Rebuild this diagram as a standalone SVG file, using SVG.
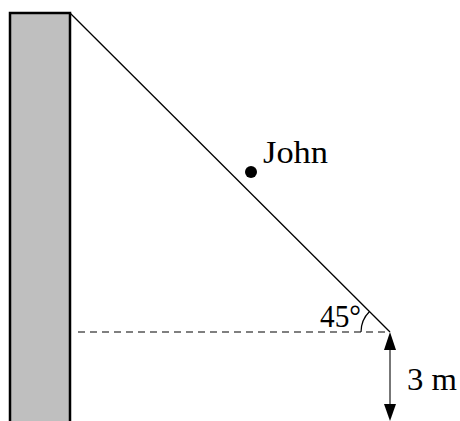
<svg xmlns="http://www.w3.org/2000/svg" width="460" height="421" viewBox="0 0 460 421">
<style>
.lbl{font-family:"Liberation Serif","Times New Roman",serif;font-size:31px;fill:#000}
</style>
<rect width="460" height="421" fill="#fff"/>
<g id="wall">
<path d="M10,425 L10,13 L70,13 L70,425" fill="#bfbfbf" stroke="#000" stroke-width="2.5"/>
</g>
<g id="connectors">
<line x1="70" y1="13" x2="390" y2="332" stroke="#000" stroke-width="1.3"/>
<line x1="78" y1="332" x2="390" y2="332" stroke="#555" stroke-width="1.3" stroke-dasharray="7,5"/>
<path d="M361,332 A29,29 0 0 1 369.5,311.5" fill="none" stroke="#000" stroke-width="1.2"/>
<line x1="390" y1="350" x2="390" y2="404" stroke="#777" stroke-width="2"/>
<path d="M390,332 L384,350 L396,350 Z" fill="#000"/>
<path d="M390,421 L384,404 L396,404 Z" fill="#000"/>
</g>
<g id="john">
<circle cx="251" cy="172" r="6" fill="#000"/>
<text class="lbl" x="263" y="163" textLength="65" lengthAdjust="spacingAndGlyphs">John</text>
</g>
<g id="angle">
<text class="lbl" x="320" y="327" textLength="41" lengthAdjust="spacingAndGlyphs">45°</text>
</g>
<g id="height">
<text class="lbl" x="407" y="390" textLength="50" lengthAdjust="spacingAndGlyphs">3 m</text>
</g>
</svg>
